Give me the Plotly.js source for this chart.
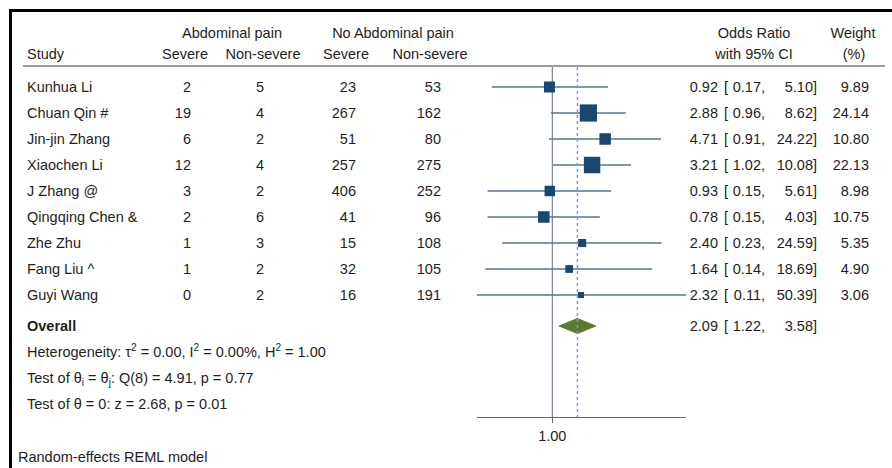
<!DOCTYPE html>
<html>
<head>
<meta charset="utf-8">
<script src="https://cdn.plot.ly/plotly-3.0.1.min.js"></script>
<style>html,body{margin:0;padding:0;background:#fff;}#chart{width:892px;height:468px;}</style>
</head>
<body>
<div id="chart"></div>
<script>
// ---- data ----
const studies = ['Kunhua Li','Chuan Qin #','Jin-jin Zhang','Xiaochen Li','J Zhang @','Qingqing Chen &','Zhe Zhu','Fang Liu ^','Guyi Wang'];
const apSevere = [2,19,6,12,3,2,1,1,0];
const apNonSevere = [5,4,2,4,2,6,3,2,2];
const noSevere = [23,267,51,257,406,41,15,32,16];
const noNonSevere = [53,162,80,275,252,96,108,105,191];
const oddsRatio = [0.92,2.88,4.71,3.21,0.93,0.78,2.40,1.64,2.32];
const ciLow = [0.17,0.96,0.91,1.02,0.15,0.15,0.23,0.14,0.11];
const ciHigh = [5.10,8.62,24.22,10.08,5.61,4.03,24.59,18.69,50.39];
const weights = [9.89,24.14,10.80,22.13,8.98,10.75,5.35,4.90,3.06];
const overallOR = 2.09, overallLow = 1.22, overallHigh = 3.58;
const statLines = [
  'Heterogeneity: τ<sup>2</sup> = 0.00, I<sup>2</sup> = 0.00%, H<sup>2</sup> = 1.00',
  'Test of θ<sub>i</sub> = θ<sub>j</sub>: Q(8) = 4.91, p = 0.77',
  'Test of θ = 0: z = 2.68, p = 0.01'
];
const xTickVals = [1];
const xTickText = ['1.00'];

// ---- layout helpers ----
const W = 892, H = 468;
const FONT = 'Liberation Sans, Arial, sans-serif';
const FS = 14.5;
const TXT = '#1e1e1e';
const TOFF = 1;
const px = v => v / W;
const py = v => 1 - v / H;
const rowY = i => 87 + 26 * i;
const overallY = 326;
const f2 = v => v.toFixed(2);

const tx = [], ty = [], tt = [], tp = [];
function t(text, x, y, align) {
  tx.push(x); ty.push(y + TOFF); tt.push(text);
  tp.push(align === 'left' ? 'middle right' : align === 'right' ? 'middle left' : 'middle center');
}

t('Abdominal pain', 232, 33, 'center');
t('No Abdominal pain', 393, 33, 'center');
t('Study', 27, 54, 'left');
t('Severe', 185, 54, 'center');
t('Non-severe', 263, 54, 'center');
t('Severe', 346, 54, 'center');
t('Non-severe', 430, 54, 'center');
t('Odds Ratio', 754, 33, 'center');
t('with 95% CI', 754, 54, 'center');
t('Weight', 853, 33, 'center');
t('(%)', 854, 54, 'center');

function orText(o, l, h, y) {
  t(f2(o), 718, y, 'right');
  t('[', 724, y, 'left');
  t(f2(l) + ',', 765, y, 'right');
  t(f2(h) + ']', 817, y, 'right');
}

studies.forEach((s, i) => {
  const y = rowY(i);
  t(s, 27, y, 'left');
  t(String(apSevere[i]), 191, y, 'right');
  t(String(apNonSevere[i]), 264, y, 'right');
  t(String(noSevere[i]), 356, y, 'right');
  t(String(noNonSevere[i]), 441, y, 'right');
  orText(oddsRatio[i], ciLow[i], ciHigh[i], y);
  t(f2(weights[i]), 869, y, 'right');
});

t('<b>Overall</b>', 27, overallY, 'left');
orText(overallOR, overallLow, overallHigh, overallY);
statLines.forEach((s, k) => t(s, 27, 352 + 26 * k, 'left'));
t('Random-effects REML model', 18, 457, 'left');

const rowsY = studies.map((s, i) => rowY(i));
const ciX = [], ciY = [];
studies.forEach((s, i) => { ciX.push(ciLow[i], ciHigh[i], null); ciY.push(rowsY[i], rowsY[i], null); });
const ciTrace = {
  type: 'scatter', mode: 'lines', x: ciX, y: ciY,
  line: {color: '#5a7590', width: 1.3}, connectgaps: false,
  hoverinfo: 'skip', showlegend: false, cliponaxis: false
};
const studyTrace = {
  type: 'scatter', mode: 'markers',
  x: oddsRatio, y: rowsY,
  marker: {symbol: 'square', color: '#1a476f', opacity: 1, size: weights.map(w => 3.5 * Math.sqrt(w)), line: {width: 0}},
  hoverinfo: 'skip', showlegend: false
};
const dh = 7.5;
const diamond = {
  type: 'scatter', mode: 'lines', fill: 'toself',
  x: [overallLow, overallOR, overallHigh, overallOR, overallLow],
  y: [overallY, overallY - dh, overallY, overallY + dh, overallY],
  fillcolor: '#5b7a2e', line: {color: '#5b7a2e', width: 1},
  hoverinfo: 'skip', showlegend: false
};
const textTrace = {
  type: 'scatter', mode: 'text', x: tx, y: ty, text: tt, textposition: tp,
  textfont: {family: FONT, size: FS, color: TXT},
  xaxis: 'x2', yaxis: 'y2', cliponaxis: false, hoverinfo: 'skip', showlegend: false
};

const xmin = Math.min(...ciLow), xmax = Math.max(...ciHigh);

const layout = {
  width: W, height: H,
  margin: {l: 0, r: 0, t: 0, b: 0, pad: 0},
  paper_bgcolor: '#fff', plot_bgcolor: 'rgba(0,0,0,0)',
  showlegend: false,
  xaxis: {
    type: 'log', domain: [477 / W, 686 / W], anchor: 'y',
    range: [Math.log10(xmin), Math.log10(xmax)],
    showgrid: false, zeroline: false,
    showline: true, linecolor: '#6a6a6a', linewidth: 1.3,
    ticks: 'outside', ticklen: 5, tickcolor: '#6a6a6a', tickwidth: 1,
    tickvals: xTickVals, ticktext: xTickText,
    tickfont: {family: FONT, size: FS, color: TXT}, fixedrange: true
  },
  yaxis: {
    domain: [(H - 417) / H, 1], range: [417, 0], anchor: 'x',
    showgrid: false, zeroline: false, showline: false, showticklabels: false, ticks: '',
    fixedrange: true
  },
  xaxis2: {domain: [0, 1], range: [0, W], anchor: 'y2', visible: false, fixedrange: true},
  yaxis2: {domain: [0, 1], range: [H, 0], anchor: 'x2', visible: false, fixedrange: true},
  shapes: [
    {type: 'line', xref: 'paper', yref: 'paper', x0: px(10.5), x1: 1, y0: py(10.5), y1: py(10.5), line: {color: '#000', width: 3}},
    {type: 'line', xref: 'paper', yref: 'paper', x0: px(10.5), x1: px(10.5), y0: py(9), y1: 0, line: {color: '#000', width: 3}},
    {type: 'line', xref: 'paper', yref: 'paper', x0: px(23), x1: px(885), y0: py(66), y1: py(66), line: {color: '#7a7a7a', width: 1.5}},
    {type: 'line', xref: 'x', yref: 'paper', x0: 1, x1: 1, y0: py(67), y1: py(417), line: {color: '#5a6c80', width: 1}, layer: 'below'},
    {type: 'line', xref: 'x', yref: 'paper', x0: overallOR, x1: overallOR, y0: py(67), y1: py(417), line: {color: '#8a8aff', width: 1.5, dash: 'dot'}}
  ]
};

Plotly.newPlot('chart', [ciTrace, studyTrace, diamond, textTrace], layout, {displayModeBar: false, staticPlot: true});
</script>
</body>
</html>
